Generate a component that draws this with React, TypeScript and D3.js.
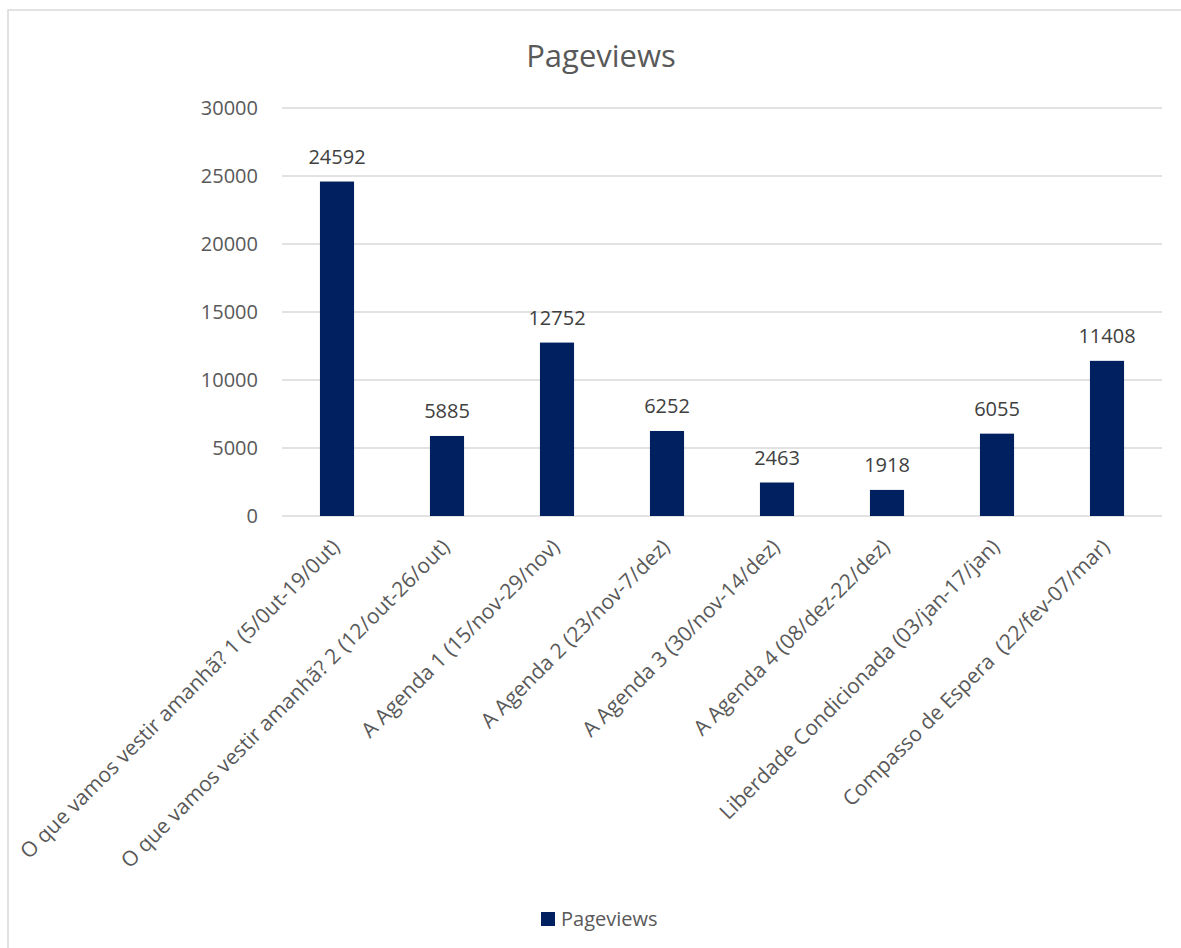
import { useEffect, useRef } from "react"
import * as d3 from "d3"

const categories = [
  "O que vamos vestir amanhã? 1 (5/0ut-19/0ut)",
  "O que vamos vestir amanhã? 2 (12/out-26/out)",
  "A Agenda 1 (15/nov-29/nov)",
  "A Agenda 2 (23/nov-7/dez)",
  "A Agenda 3 (30/nov-14/dez)",
  "A Agenda 4 (08/dez-22/dez)",
  "Liberdade Condicionada (03/jan-17/jan)",
  "Compasso de Espera  (22/fev-07/mar)",
]
const pageviews = [24592, 5885, 12752, 6252, 2463, 1918, 6055, 11408]
const yTicks = [0, 5000, 10000, 15000, 20000, 25000, 30000]
const seriesName = "Pageviews"

export default function App() {
  const svgRef = useRef(null)

  useEffect(() => {
    if (!svgRef.current) return
    const svg = d3.select(svgRef.current)
    svg.selectAll("*").remove()

    const width = 1181
    const height = 948
    const font = "'Open Sans', 'Noto Sans', sans-serif"
    const textColor = "#595959"
    const barColor = "#002060"

    // chart frame
    svg
      .append("rect")
      .attr("x", 8)
      .attr("y", 10)
      .attr("width", 1200)
      .attr("height", 960)
      .attr("fill", "white")
      .attr("stroke", "#d9d9d9")
      .attr("stroke-width", 1.5)

    const x = d3.scaleBand().domain(categories).range([282, 1162]).padding(0)
    const y = d3.scaleLinear().domain([0, 30000]).range([516, 108])
    const barW = x.bandwidth() * 0.31

    // gridlines
    svg
      .append("g")
      .selectAll("line")
      .data(yTicks)
      .enter()
      .append("line")
      .attr("x1", 282)
      .attr("x2", 1162)
      .attr("y1", (d) => y(d))
      .attr("y2", (d) => y(d))
      .attr("stroke", "#d9d9d9")
      .attr("stroke-width", 1.5)

    // y tick labels
    svg
      .append("g")
      .selectAll("text")
      .data(yTicks)
      .enter()
      .append("text")
      .attr("x", 258)
      .attr("y", (d) => y(d))
      .attr("dy", "0.36em")
      .attr("text-anchor", "end")
      .attr("font-family", font)
      .attr("font-size", "20px")
      .attr("fill", textColor)
      .text((d) => d)

    // bars
    svg
      .append("g")
      .selectAll("rect")
      .data(pageviews)
      .enter()
      .append("rect")
      .attr("x", (d, i) => x(categories[i]) + x.bandwidth() / 2 - barW / 2)
      .attr("y", (d) => y(d))
      .attr("width", barW)
      .attr("height", (d) => y(0) - y(d))
      .attr("fill", barColor)

    // data labels
    svg
      .append("g")
      .selectAll("text")
      .data(pageviews)
      .enter()
      .append("text")
      .attr("x", (d, i) => x(categories[i]) + x.bandwidth() / 2)
      .attr("y", (d) => y(d) - 18)
      .attr("text-anchor", "middle")
      .attr("font-family", font)
      .attr("font-size", "20px")
      .attr("fill", "#404040")
      .text((d) => d)

    // x labels, rotated
    svg
      .append("g")
      .selectAll("text")
      .data(categories)
      .enter()
      .append("text")
      .attr("transform", (d) => `translate(${x(d) + x.bandwidth() / 2 + 4},548) rotate(-45)`)
      .attr("text-anchor", "end")
      .attr("font-family", font)
      .attr("font-size", "21px")
      .attr("fill", textColor)
      .style("white-space", "pre")
      .text((d) => d)

    // title
    svg
      .append("text")
      .attr("x", 601)
      .attr("y", 67)
      .attr("text-anchor", "middle")
      .attr("font-family", font)
      .attr("font-size", "31px")
      .attr("fill", textColor)
      .text(seriesName)

    // legend
    svg
      .append("rect")
      .attr("x", 541)
      .attr("y", 912)
      .attr("width", 14)
      .attr("height", 14)
      .attr("fill", barColor)
    svg
      .append("text")
      .attr("x", 561)
      .attr("y", 926)
      .attr("font-family", font)
      .attr("font-size", "20px")
      .attr("fill", textColor)
      .text(seriesName)

    svg.attr("width", width).attr("height", height).attr("viewBox", [0, 0, width, height])
  }, [])

  return (
    <div style={{ position: "absolute", left: 0, top: 0, width: 1181, height: 948, overflow: "hidden", background: "white" }}>
      <svg ref={svgRef} style={{ display: "block" }}></svg>
    </div>
  )
}
